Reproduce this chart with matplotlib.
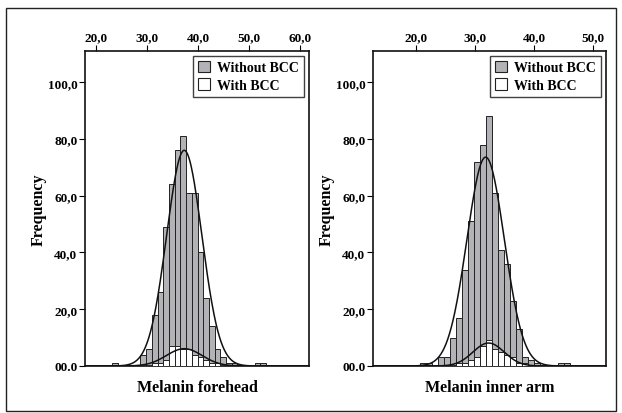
import numpy as np
import matplotlib
matplotlib.use("Agg")
import matplotlib.pyplot as plt
from matplotlib.patches import Patch, Rectangle

plt.rcParams['font.family'] = ['Liberation Serif', 'DejaVu Serif']
plt.rcParams['font.weight'] = 'bold'

# ---- data ----
# Left panel: Melanin forehead
fh_start = 23.1
fh_width = 1.12
fh_without = [1, 0, 0, 0, 0, 4, 6, 18, 26, 49, 64, 76, 81, 61, 61, 40, 24, 14, 6, 3, 1, 1, 0, 0, 0, 1, 1]
fh_with    = [0, 0, 0, 0, 0, 0, 0, 1, 1, 2, 7, 7, 6, 6, 4, 3, 2, 1, 1, 0, 0, 0, 0, 0, 0, 0, 0]
fh_fit_without = dict(mean=37.3, sd=3.45, peak=76.0)
fh_fit_with = dict(mean=37.3, sd=3.5, peak=6.1)

# Right panel: Melanin inner arm
ia_start = 20.61
ia_width = 1.02
ia_without = [1, 1, 0, 3, 3, 10, 17, 34, 51, 72, 78, 88, 61, 41, 36, 23, 13, 3, 2, 1, 0, 0, 0, 1, 1]
ia_with    = [0, 0, 0, 0, 0, 0, 1, 1, 2, 3, 7, 9, 6, 5, 4, 3, 1, 1, 0, 0, 0, 0, 0, 0, 0]
ia_fit_without = dict(mean=31.8, sd=3.17, peak=73.6)
ia_fit_with = dict(mean=32.3, sd=2.65, peak=8.1)

y_ticks = [0, 20, 40, 60, 80, 100]
y_labels = ["00.0", "20,0", "40,0", "60,0", "80,0", "100,0"]
fh_xticks = [20, 30, 40, 50, 60]
ia_xticks = [20, 30, 40, 50]
legend_labels = ["Without BCC", "With BCC"]

GREY = '#b3b3b7'

fig = plt.figure(figsize=(6.22, 4.14), dpi=100)

def panel(rect, start, width, without, with_, fit_wo, fit_w, xlim, xticks, xlabel):
    ax = fig.add_axes(rect)
    n = len(without)
    edges = start + width * np.arange(n)
    ax.bar(edges, without, width=width, align='edge', color=GREY,
           edgecolor='#222222', linewidth=0.7, zorder=2)
    ax.bar(edges, with_, width=width, align='edge', color='white',
           edgecolor='#222222', linewidth=0.7, zorder=3)
    xs = np.linspace(xlim[0], xlim[1], 400)
    for f in (fit_wo, fit_w):
        ys = f['peak'] * np.exp(-0.5 * ((xs - f['mean']) / f['sd']) ** 2)
        ax.plot(xs, ys, color='#111111', lw=1.1, zorder=4)
    ax.set_xlim(*xlim)
    ax.set_ylim(0, 111)
    ax.set_yticks(y_ticks)
    ax.set_yticklabels(y_labels)
    ax.set_xticks(xticks)
    ax.set_xticklabels([f"{t},0" for t in xticks])
    ax.xaxis.tick_top()
    ax.tick_params(axis='x', which='both', top=True, bottom=False, length=4,
                   width=0.8, labelsize=9.5, pad=2)
    ax.tick_params(axis='y', length=4, width=0.8, labelsize=9.5, pad=1.5)
    for s in ax.spines.values():
        s.set_linewidth(1.2)
        s.set_color('#111111')
    ax.set_ylabel("Frequency", fontsize=11.5, fontweight='bold', labelpad=1)
    ax.text(0.5, -0.04, xlabel, transform=ax.transAxes, ha='center', va='top',
            fontsize=11.5, fontweight='bold')
    handles = [Patch(facecolor=GREY, edgecolor='#222222', linewidth=0.8),
               Patch(facecolor='white', edgecolor='#222222', linewidth=0.8)]
    leg = ax.legend(handles, legend_labels, loc='upper right', fontsize=10,
                    frameon=True, fancybox=False, edgecolor='#111111',
                    handlelength=0.9, handleheight=0.9, handletextpad=0.5,
                    borderaxespad=0.35, borderpad=0.35, labelspacing=0.3)
    leg.get_frame().set_linewidth(1.0)
    return ax

panel([85/622, 47/414, 224/622, 315/414], fh_start, fh_width, fh_without, fh_with,
      fh_fit_without, fh_fit_with, (17.84, 61.76), fh_xticks, "Melanin forehead")
panel([373/622, 47/414, 233/622, 315/414], ia_start, ia_width, ia_without, ia_with,
      ia_fit_without, ia_fit_with, (12.71, 52.2), ia_xticks, "Melanin inner arm")

fig.patches.append(Rectangle((6/622, 2/414), 610/622, 403/414, transform=fig.transFigure,
                             fill=False, edgecolor='#222222', linewidth=1.0))

fig.savefig("out.png", dpi=100)
